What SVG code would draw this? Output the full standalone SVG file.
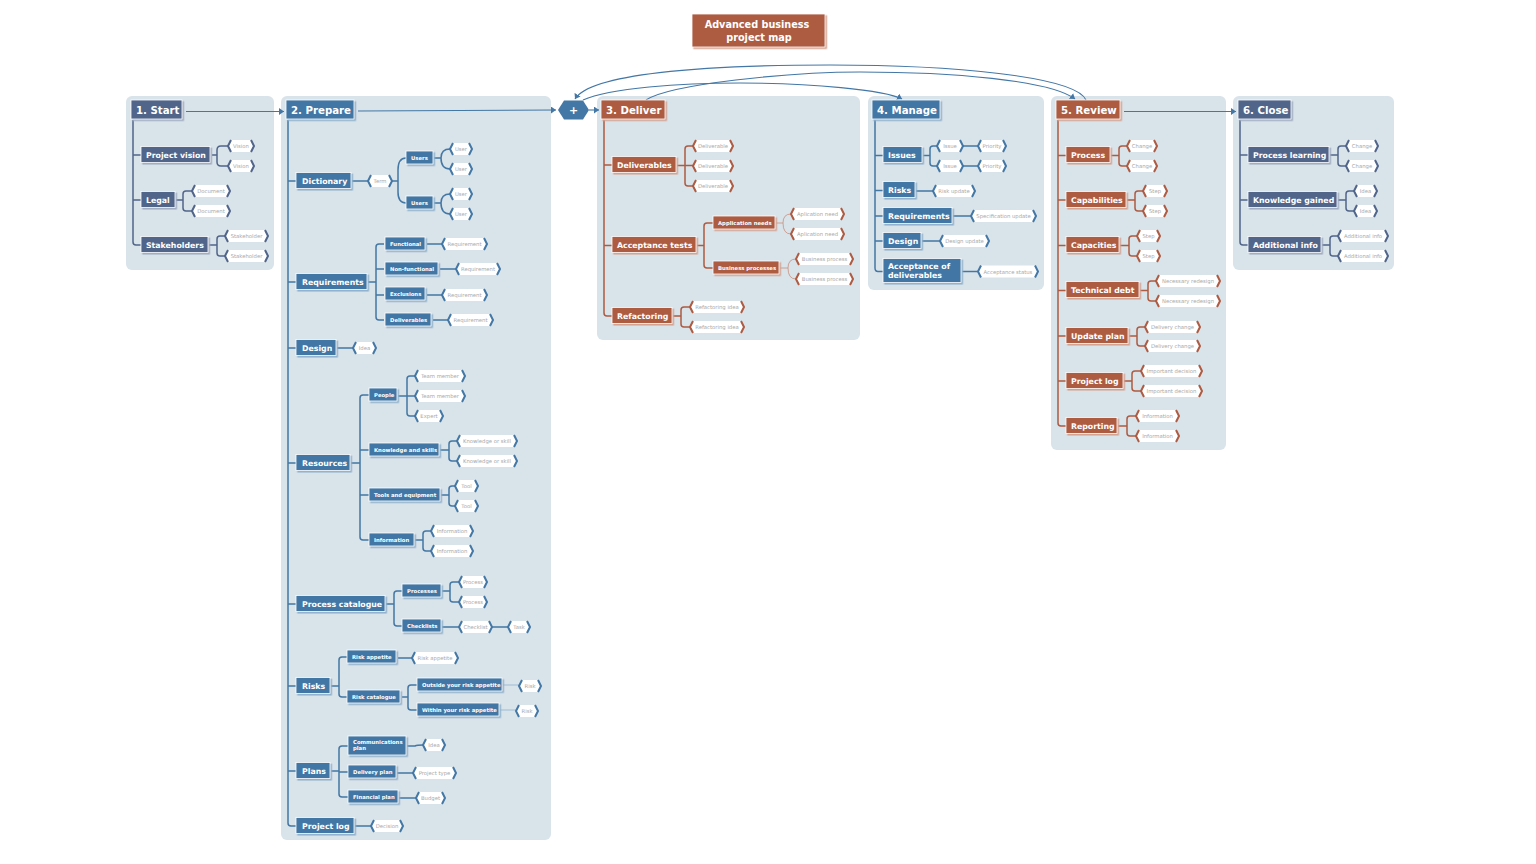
<svg xmlns="http://www.w3.org/2000/svg" width="1536" height="864" viewBox="0 0 1536 864">
<style>
text{font-family:"DejaVu Sans",Verdana,sans-serif}
.p{fill:#d9e3ea}
.b{stroke:#fff;stroke-width:.8}
.sl{fill:#51658a;filter:url(#fs)}
.bl{fill:#4377a5;filter:url(#fb)}
.rd{fill:#ad5b42;filter:url(#fr)}
.t1,.t2,.t3{fill:#fff;font-weight:700}
.t1{font-size:10.2px}.t2{font-size:7.8px}.t3{font-size:5.3px}
.lf{fill:#fff}
.ch{fill:#fff;stroke-width:2;stroke-linejoin:miter}
.cs{stroke:#51658a}.cb{stroke:#4377a5}.cr{stroke:#ad5b42}
.lt{fill:#a8a8a8;font-size:5.3px;text-anchor:middle}
.k{fill:none;stroke-width:1.5}
.th{fill:none;stroke:#c98f7c;stroke-width:.8}
.tb{fill:none;stroke:#9fbbd3;stroke-width:1.2}
.a{fill:none;stroke:#4377a5;stroke-width:1.1}
</style>
<defs>
<filter id="fs" x="-10%" y="-20%" width="120%" height="150%"><feDropShadow dx="1.6" dy="1.6" stdDeviation="0" flood-color="#9fabc0"/></filter>
<filter id="fb" x="-10%" y="-20%" width="120%" height="150%"><feDropShadow dx="1.6" dy="1.6" stdDeviation="0" flood-color="#8fb0cc"/></filter>
<filter id="fr" x="-10%" y="-20%" width="120%" height="150%"><feDropShadow dx="1.6" dy="1.6" stdDeviation="0" flood-color="#d3a291"/></filter>
<marker id="ar" markerUnits="userSpaceOnUse" markerWidth="7" markerHeight="8" refX="5" refY="3.5" orient="auto"><path d="M0 0L5 3.5L0 7Z" fill="#4377a5"/></marker>
</defs>
<g id="panels">
<rect class="p" x="126" y="96" width="148" height="174" rx="6"/>
<rect class="p" x="281" y="96" width="270" height="744" rx="6"/>
<rect class="p" x="597" y="96" width="263" height="244" rx="6"/>
<rect class="p" x="868" y="96" width="176" height="194" rx="6"/>
<rect class="p" x="1051" y="96" width="175" height="354" rx="6"/>
<rect class="p" x="1233" y="96" width="161" height="174" rx="6"/>
</g>
<g id="connectors">
<g class="a">
<path d="M186 111.500H284" marker-end="url(#ar)"/>
<path d="M358 111L556 110" marker-end="url(#ar)"/>
<path d="M589 110H599" marker-end="url(#ar)"/>
<path d="M1124 111.500H1236" marker-end="url(#ar)"/>
<path d="M583 100C610 88 680 83 740 83C810 83 885 90 902 99" marker-end="url(#ar)"/>
<path d="M646 100C670 84 790 72 860 72C950 72 1050 80 1075 99" marker-end="url(#ar)"/>
<path d="M1086 100C1075 76 950 65 830 65C700 65 590 74 575 99" marker-end="url(#ar)"/>
</g>
<g class="k cs">
<path d="M133 120V242Q133 245 136 245H141M133 155H141M133 200H141"/>
<path d="M212 155H217M228 146H221Q217 146 217 150V162Q217 166 221 166H228"/>
<path d="M176 200H183M192 191H186Q183 191 183 194V208Q183 211 186 211H192"/>
<path d="M209 245H217M225 236H220Q217 236 217 239V253Q217 256 220 256H225"/>
<path d="M1240 120V242Q1240 245 1243 245H1248M1240 155H1248M1240 200H1248"/>
<path d="M1330 155H1338M1346 146H1341Q1338 146 1338 149V163Q1338 166 1341 166H1346"/>
<path d="M1338 200H1346M1354 191H1349Q1346 191 1346 194V208Q1346 211 1349 211H1354"/>
<path d="M1322 245H1330M1338 236H1333Q1330 236 1330 239V253Q1330 256 1333 256H1338"/>
</g>
<g class="k cb">
<path d="M288 120V823Q288 826 291 826H296M288 181H296M288 282H296M288 348H296M288 463H296M288 604H296M288 686H296M288 771H296"/>
<path d="M352 181H368M392 181H398M406 158Q398 158 398 170V192Q398 203 406 203"/>
<path d="M434 158H441M450 149Q441 149 441 158Q441 169 450 169M434 203H441M450 194Q441 194 441 203Q441 214 450 214"/>
<path d="M368 282H376M384 244H379Q376 244 376 247V317Q376 320 379 320H384M376 269H384M376 295H384"/>
<path d="M427 244H442M440 269H456M427 295H442M433 320H448M337 348H353"/>
<path d="M351 463H360M369 395H363Q360 395 360 398V537Q360 540 363 540H369M360 450H369M360 495H369"/>
<path d="M398 396H407M415 376H410Q407 376 407 379V413Q407 416 410 416H415M407 396H415"/>
<path d="M440 450H449M457 441H452Q449 441 449 444V458Q449 461 452 461H457"/>
<path d="M441 495H449M455 486H452Q449 486 449 489V503Q449 506 452 506H455"/>
<path d="M415 540H423M431 531H426Q423 531 423 534V548Q423 551 426 551H431"/>
<path d="M386 604H394M402 591H397Q394 591 394 594V623Q394 626 397 626H402"/>
<path d="M442 591H450M459 582H453Q450 582 450 585V599Q450 602 453 602H459M442 627H459M492 627H508"/>
<path d="M331 686H339M347 657H342Q339 657 339 660V694Q339 697 342 697H347M398 658H412"/>
<path d="M402 697H408M417 685H411Q408 685 408 688V707Q408 710 411 710H417"/>
<path d="M331 771H339M348 746H342Q339 746 339 749V794Q339 797 342 797H348M339 772H348"/>
<path d="M407 746H415Q417 745 423 745M397 773H413M399 798H416M355 826H371"/>
<path d="M875 120V268Q875 271.500 878 271.500H883M875 155.500H883M875 190.500H883M875 216H883M875 241H883"/>
<path d="M923 155.500H930M937 146H933Q930 146 930 149V163Q930 166 933 166H937M963 146H978M963 166H978"/>
<path d="M916 191H933M953 216H971M922 241H940M962 271.500H978"/>
</g>
<path class="tb" d="M503 685H519M500 710H516"/>
<g class="k cr">
<path d="M604 120V313Q604 316 607 316H612M604 165H612M604 245.500H612"/>
<path d="M677 165.500H693M693 146H688Q685 146 685 149V183Q685 186 688 186H693"/>
<path d="M697 245.500H704M713 223H707Q704 223 704 226V265Q704 268 707 268H713"/>
<path d="M673 316H681M690 307H684Q681 307 681 310V324Q681 327 684 327H690"/>
<path d="M1058 120V423Q1058 426 1061 426H1066M1058 155.500H1066M1058 200H1066M1058 245.500H1066M1058 290.500H1066M1058 336H1066M1058 381H1066"/>
<path d="M1111 155.500H1119M1127 146H1122Q1119 146 1119 149V163Q1119 166 1122 166H1127"/>
<path d="M1127 200H1135M1143 191H1138Q1135 191 1135 194V208Q1135 211 1138 211H1143"/>
<path d="M1120 245.500H1129M1137 236H1132Q1129 236 1129 239V253Q1129 256 1132 256H1137"/>
<path d="M1140 290.500H1148M1156 281H1151Q1148 281 1148 284V298Q1148 301 1151 301H1156"/>
<path d="M1129 336H1137M1145 327H1140Q1137 327 1137 330V343Q1137 346 1140 346H1145"/>
<path d="M1124 381H1132M1141 371H1135Q1132 371 1132 374V388Q1132 391 1135 391H1141"/>
<path d="M1118 426H1127M1136 416H1130Q1127 416 1127 419V433Q1127 436 1130 436H1136"/>
</g>
<path class="th" d="M776 223H783M791 214Q783 214 783 223Q783 234 791 234M780 268H788M796 259Q788 259 788 268Q788 279 796 279"/>
</g>
<g id="title"><rect class="b rd" x="692" y="14" width="133" height="33"/><text class="t2" style="font-size:9.700px" text-anchor="middle" x="757" y="28">Advanced business</text><text class="t2" style="font-size:9.700px" text-anchor="middle" x="759" y="40.500">project map</text></g>
<g id="hex-plus"><path d="M558 110L564 100.500H583L589 110L583 119.500H564Z" fill="#4377a5"/><text x="573.500" y="114" fill="#fff" font-size="11" font-weight="700" text-anchor="middle">+</text></g>

<g id="n1"><rect class="b sl" x="131" y="100" width="51" height="19"/><text class="t1" x="136" y="113.500">1. Start</text></g>
<g id="n1a"><rect class="b sl" x="141" y="146.500" width="69" height="16"/><text class="t2" x="146" y="157.500">Project vision</text></g>
<g id="n1b"><rect class="b sl" x="141" y="191.500" width="34" height="16"/><text class="t2" x="146" y="202.500">Legal</text></g>
<g id="n1c"><rect class="b sl" x="141" y="236.500" width="67" height="16"/><text class="t2" x="146" y="247.500">Stakeholders</text></g>
<g id="l1"><rect class="lf" x="231" y="140" width="20" height="12"/><path class="ch cs" d="M231 140l-3 6 3 6M251 140l3 6-3 6"/><text class="lt" x="241" y="148">Vision</text></g>
<g id="l2"><rect class="lf" x="231" y="160" width="20" height="12"/><path class="ch cs" d="M231 160l-3 6 3 6M251 160l3 6-3 6"/><text class="lt" x="241" y="168">Vision</text></g>
<g id="l3"><rect class="lf" x="195" y="185" width="32" height="12"/><path class="ch cs" d="M195 185l-3 6 3 6M227 185l3 6-3 6"/><text class="lt" x="211" y="193">Document</text></g>
<g id="l4"><rect class="lf" x="195" y="205" width="32" height="12"/><path class="ch cs" d="M195 205l-3 6 3 6M227 205l3 6-3 6"/><text class="lt" x="211" y="213">Document</text></g>
<g id="l5"><rect class="lf" x="228" y="230" width="37" height="12"/><path class="ch cs" d="M228 230l-3 6 3 6M265 230l3 6-3 6"/><text class="lt" x="246.500" y="238">Stakeholder</text></g>
<g id="l6"><rect class="lf" x="228" y="250" width="37" height="12"/><path class="ch cs" d="M228 250l-3 6 3 6M265 250l3 6-3 6"/><text class="lt" x="246.500" y="258">Stakeholder</text></g>

<g id="n2"><rect class="b bl" x="286" y="100" width="68" height="19"/><text class="t1" x="291" y="113.500">2. Prepare</text></g>
<g id="n2a"><rect class="b bl" x="296" y="172.500" width="55" height="16"/><text class="t2" x="302" y="183.500">Dictionary</text></g>
<g id="n2b"><rect class="b bl" x="296" y="273.500" width="71" height="16"/><text class="t2" x="302" y="284.500">Requirements</text></g>
<g id="n2c"><rect class="b bl" x="296" y="339.500" width="40" height="16"/><text class="t2" x="302" y="350.500">Design</text></g>
<g id="n2d"><rect class="b bl" x="296" y="454.500" width="54" height="16"/><text class="t2" x="302" y="465.500">Resources</text></g>
<g id="n2e"><rect class="b bl" x="296" y="595.500" width="89" height="16"/><text class="t2" x="302" y="606.500">Process catalogue</text></g>
<g id="n2f"><rect class="b bl" x="296" y="677.500" width="34" height="16"/><text class="t2" x="302" y="688.500">Risks</text></g>
<g id="n2g"><rect class="b bl" x="296" y="762.500" width="34" height="16"/><text class="t2" x="302" y="773.500">Plans</text></g>
<g id="n2h"><rect class="b bl" x="296" y="817.500" width="58" height="16"/><text class="t2" x="302" y="828.500">Project log</text></g>
<g id="n2a1"><rect class="b bl" x="406" y="151" width="27" height="13"/><text class="t3" x="411" y="159.500">Users</text></g>
<g id="n2a2"><rect class="b bl" x="406" y="196" width="27" height="13"/><text class="t3" x="411" y="204.500">Users</text></g>
<g id="n2b1"><rect class="b bl" x="385" y="237" width="40" height="13"/><text class="t3" x="390" y="245.500">Functional</text></g>
<g id="n2b2"><rect class="b bl" x="385" y="262" width="53" height="13"/><text class="t3" x="390" y="270.500">Non-functional</text></g>
<g id="n2b3"><rect class="b bl" x="385" y="287" width="40" height="13"/><text class="t3" x="390" y="295.500">Exclusions</text></g>
<g id="n2b4"><rect class="b bl" x="385" y="313" width="46" height="13"/><text class="t3" x="390" y="321.500">Deliverables</text></g>
<g id="n2d1"><rect class="b bl" x="369" y="388" width="28" height="13"/><text class="t3" x="374" y="396.500">People</text></g>
<g id="n2d2"><rect class="b bl" x="369" y="443" width="70" height="13"/><text class="t3" x="374" y="451.500">Knowledge and skills</text></g>
<g id="n2d3"><rect class="b bl" x="369" y="488" width="71" height="13"/><text class="t3" x="374" y="496.500">Tools and equipment</text></g>
<g id="n2d4"><rect class="b bl" x="369" y="533" width="45" height="13"/><text class="t3" x="374" y="541.500">Information</text></g>
<g id="n2e1"><rect class="b bl" x="402" y="584" width="39" height="13"/><text class="t3" x="407" y="592.500">Processes</text></g>
<g id="n2e2"><rect class="b bl" x="402" y="619" width="39" height="13"/><text class="t3" x="407" y="627.500">Checklists</text></g>
<g id="n2f1"><rect class="b bl" x="347" y="650" width="49" height="13"/><text class="t3" x="352" y="658.500">Risk appetite</text></g>
<g id="n2f2"><rect class="b bl" x="347" y="690" width="53" height="13"/><text class="t3" x="352" y="698.500">Risk catalogue</text></g>
<g id="n2f3"><rect class="b bl" x="417" y="678" width="85" height="13"/><text class="t3" x="422" y="686.500">Outside your risk appetite</text></g>
<g id="n2f4"><rect class="b bl" x="417" y="703" width="82" height="13"/><text class="t3" x="422" y="711.500">Within your risk appetite</text></g>
<g id="n2g1"><rect class="b bl" x="348" y="736" width="58" height="19"/><text class="t3" x="353" y="744">Communications</text><text class="t3" x="353" y="750">plan</text></g>
<g id="n2g2"><rect class="b bl" x="348" y="765" width="48" height="13"/><text class="t3" x="353" y="773.500">Delivery plan</text></g>
<g id="n2g3"><rect class="b bl" x="348" y="790" width="50" height="13"/><text class="t3" x="353" y="798.500">Financial plan</text></g>
<g id="l7"><rect class="lf" x="371" y="175" width="18" height="12"/><path class="ch cb" d="M371 175l-3 6 3 6M389 175l3 6-3 6"/><text class="lt" x="380" y="183">Term</text></g>
<g id="l8"><rect class="lf" x="453" y="143" width="16" height="12"/><path class="ch cb" d="M453 143l-3 6 3 6M469 143l3 6-3 6"/><text class="lt" x="461" y="151">User</text></g>
<g id="l9"><rect class="lf" x="453" y="163" width="16" height="12"/><path class="ch cb" d="M453 163l-3 6 3 6M469 163l3 6-3 6"/><text class="lt" x="461" y="171">User</text></g>
<g id="l10"><rect class="lf" x="453" y="188" width="16" height="12"/><path class="ch cb" d="M453 188l-3 6 3 6M469 188l3 6-3 6"/><text class="lt" x="461" y="196">User</text></g>
<g id="l11"><rect class="lf" x="453" y="208" width="16" height="12"/><path class="ch cb" d="M453 208l-3 6 3 6M469 208l3 6-3 6"/><text class="lt" x="461" y="216">User</text></g>
<g id="l12"><rect class="lf" x="445" y="238" width="39" height="12"/><path class="ch cb" d="M445 238l-3 6 3 6M484 238l3 6-3 6"/><text class="lt" x="464.500" y="246">Requirement</text></g>
<g id="l13"><rect class="lf" x="459" y="263" width="38" height="12"/><path class="ch cb" d="M459 263l-3 6 3 6M497 263l3 6-3 6"/><text class="lt" x="478" y="271">Requirement</text></g>
<g id="l14"><rect class="lf" x="445" y="289" width="39" height="12"/><path class="ch cb" d="M445 289l-3 6 3 6M484 289l3 6-3 6"/><text class="lt" x="464.500" y="297">Requirement</text></g>
<g id="l15"><rect class="lf" x="451" y="314" width="39" height="12"/><path class="ch cb" d="M451 314l-3 6 3 6M490 314l3 6-3 6"/><text class="lt" x="470.500" y="322">Requirement</text></g>
<g id="l16"><rect class="lf" x="356" y="342" width="17" height="12"/><path class="ch cb" d="M356 342l-3 6 3 6M373 342l3 6-3 6"/><text class="lt" x="364.500" y="350">Idea</text></g>
<g id="l17"><rect class="lf" x="418" y="370" width="44" height="12"/><path class="ch cb" d="M418 370l-3 6 3 6M462 370l3 6-3 6"/><text class="lt" x="440" y="378">Team member</text></g>
<g id="l18"><rect class="lf" x="418" y="390" width="44" height="12"/><path class="ch cb" d="M418 390l-3 6 3 6M462 390l3 6-3 6"/><text class="lt" x="440" y="398">Team member</text></g>
<g id="l19"><rect class="lf" x="418" y="410" width="22" height="12"/><path class="ch cb" d="M418 410l-3 6 3 6M440 410l3 6-3 6"/><text class="lt" x="429" y="418">Expert</text></g>
<g id="l20"><rect class="lf" x="460" y="435" width="54" height="12"/><path class="ch cb" d="M460 435l-3 6 3 6M514 435l3 6-3 6"/><text class="lt" x="487" y="443">Knowledge or skill</text></g>
<g id="l21"><rect class="lf" x="460" y="455" width="54" height="12"/><path class="ch cb" d="M460 455l-3 6 3 6M514 455l3 6-3 6"/><text class="lt" x="487" y="463">Knowledge or skill</text></g>
<g id="l22"><rect class="lf" x="458" y="480" width="17" height="12"/><path class="ch cb" d="M458 480l-3 6 3 6M475 480l3 6-3 6"/><text class="lt" x="466.500" y="488">Tool</text></g>
<g id="l23"><rect class="lf" x="458" y="500" width="17" height="12"/><path class="ch cb" d="M458 500l-3 6 3 6M475 500l3 6-3 6"/><text class="lt" x="466.500" y="508">Tool</text></g>
<g id="l24"><rect class="lf" x="434" y="525" width="36" height="12"/><path class="ch cb" d="M434 525l-3 6 3 6M470 525l3 6-3 6"/><text class="lt" x="452" y="533">Information</text></g>
<g id="l25"><rect class="lf" x="434" y="545" width="36" height="12"/><path class="ch cb" d="M434 545l-3 6 3 6M470 545l3 6-3 6"/><text class="lt" x="452" y="553">Information</text></g>
<g id="l26"><rect class="lf" x="462" y="576" width="22" height="12"/><path class="ch cb" d="M462 576l-3 6 3 6M484 576l3 6-3 6"/><text class="lt" x="473" y="584">Process</text></g>
<g id="l27"><rect class="lf" x="462" y="596" width="22" height="12"/><path class="ch cb" d="M462 596l-3 6 3 6M484 596l3 6-3 6"/><text class="lt" x="473" y="604">Process</text></g>
<g id="l28"><rect class="lf" x="462" y="621" width="27" height="12"/><path class="ch cb" d="M462 621l-3 6 3 6M489 621l3 6-3 6"/><text class="lt" x="475.500" y="629">Checklist</text></g>
<g id="l29"><rect class="lf" x="511" y="621" width="16" height="12"/><path class="ch cb" d="M511 621l-3 6 3 6M527 621l3 6-3 6"/><text class="lt" x="519" y="629">Task</text></g>
<g id="l30"><rect class="lf" x="415" y="652" width="40" height="12"/><path class="ch cb" d="M415 652l-3 6 3 6M455 652l3 6-3 6"/><text class="lt" x="435" y="660">Risk appetite</text></g>
<g id="l31"><rect class="lf" x="522" y="680" width="16" height="12"/><path class="ch cb" d="M522 680l-3 6 3 6M538 680l3 6-3 6"/><text class="lt" x="530" y="688">Risk</text></g>
<g id="l32"><rect class="lf" x="519" y="705" width="16" height="12"/><path class="ch cb" d="M519 705l-3 6 3 6M535 705l3 6-3 6"/><text class="lt" x="527" y="713">Risk</text></g>
<g id="l33"><rect class="lf" x="426" y="739" width="16" height="12"/><path class="ch cb" d="M426 739l-3 6 3 6M442 739l3 6-3 6"/><text class="lt" x="434" y="747">Idea</text></g>
<g id="l34"><rect class="lf" x="416" y="767" width="37" height="12"/><path class="ch cb" d="M416 767l-3 6 3 6M453 767l3 6-3 6"/><text class="lt" x="434.500" y="775">Project type</text></g>
<g id="l35"><rect class="lf" x="419" y="792" width="23" height="12"/><path class="ch cb" d="M419 792l-3 6 3 6M442 792l3 6-3 6"/><text class="lt" x="430.500" y="800">Budget</text></g>
<g id="l36"><rect class="lf" x="374" y="820" width="26" height="12"/><path class="ch cb" d="M374 820l-3 6 3 6M400 820l3 6-3 6"/><text class="lt" x="387" y="828">Decision</text></g>

<g id="n3"><rect class="b rd" x="601" y="100" width="64" height="19"/><text class="t1" x="606" y="113.500">3. Deliver</text></g>
<g id="n3a"><rect class="b rd" x="612" y="156.500" width="64" height="16"/><text class="t2" x="617" y="167.500">Deliverables</text></g>
<g id="n3b"><rect class="b rd" x="612" y="236.500" width="84" height="16"/><text class="t2" x="617" y="247.500">Acceptance tests</text></g>
<g id="n3c"><rect class="b rd" x="612" y="307.500" width="60" height="16"/><text class="t2" x="617" y="318.500">Refactoring</text></g>
<g id="n3b1"><rect class="b rd" x="713" y="216" width="62" height="13"/><text class="t3" x="718" y="224.500">Application needs</text></g>
<g id="n3b2"><rect class="b rd" x="713" y="261" width="66" height="13"/><text class="t3" x="718" y="269.500">Business processes</text></g>
<g id="l37"><rect class="lf" x="696" y="140" width="34" height="12"/><path class="ch cr" d="M696 140l-3 6 3 6M730 140l3 6-3 6"/><text class="lt" x="713" y="148">Deliverable</text></g>
<g id="l38"><rect class="lf" x="696" y="160" width="34" height="12"/><path class="ch cr" d="M696 160l-3 6 3 6M730 160l3 6-3 6"/><text class="lt" x="713" y="168">Deliverable</text></g>
<g id="l39"><rect class="lf" x="696" y="180" width="34" height="12"/><path class="ch cr" d="M696 180l-3 6 3 6M730 180l3 6-3 6"/><text class="lt" x="713" y="188">Deliverable</text></g>
<g id="l40"><rect class="lf" x="794" y="208" width="47" height="12"/><path class="ch cr" d="M794 208l-3 6 3 6M841 208l3 6-3 6"/><text class="lt" x="817.500" y="216">Aplication need</text></g>
<g id="l41"><rect class="lf" x="794" y="228" width="47" height="12"/><path class="ch cr" d="M794 228l-3 6 3 6M841 228l3 6-3 6"/><text class="lt" x="817.500" y="236">Aplication need</text></g>
<g id="l42"><rect class="lf" x="799" y="253" width="51" height="12"/><path class="ch cr" d="M799 253l-3 6 3 6M850 253l3 6-3 6"/><text class="lt" x="824.500" y="261">Business process</text></g>
<g id="l43"><rect class="lf" x="799" y="273" width="51" height="12"/><path class="ch cr" d="M799 273l-3 6 3 6M850 273l3 6-3 6"/><text class="lt" x="824.500" y="281">Business process</text></g>
<g id="l44"><rect class="lf" x="693" y="301" width="48" height="12"/><path class="ch cr" d="M693 301l-3 6 3 6M741 301l3 6-3 6"/><text class="lt" x="717" y="309">Refactoring idea</text></g>
<g id="l45"><rect class="lf" x="693" y="321" width="48" height="12"/><path class="ch cr" d="M693 321l-3 6 3 6M741 321l3 6-3 6"/><text class="lt" x="717" y="329">Refactoring idea</text></g>

<g id="n4"><rect class="b bl" x="872" y="100" width="68" height="19"/><text class="t1" x="877" y="113.500">4. Manage</text></g>
<g id="n4a"><rect class="b bl" x="883" y="146.500" width="39" height="16"/><text class="t2" x="888" y="157.500">Issues</text></g>
<g id="n4b"><rect class="b bl" x="883" y="181.500" width="32" height="16"/><text class="t2" x="888" y="192.500">Risks</text></g>
<g id="n4c"><rect class="b bl" x="883" y="207.500" width="69" height="16"/><text class="t2" x="888" y="218.500">Requirements</text></g>
<g id="n4d"><rect class="b bl" x="883" y="232.500" width="38" height="16"/><text class="t2" x="888" y="243.500">Design</text></g>
<g id="n4e"><rect class="b bl" x="883" y="258.500" width="78" height="24"/><text class="t2" x="888" y="268.500">Acceptance of</text><text class="t2" x="888" y="278">deliverables</text></g>
<g id="l46"><rect class="lf" x="940" y="140" width="20" height="12"/><path class="ch cb" d="M940 140l-3 6 3 6M960 140l3 6-3 6"/><text class="lt" x="950" y="148">Issue</text></g>
<g id="l47"><rect class="lf" x="940" y="160" width="20" height="12"/><path class="ch cb" d="M940 160l-3 6 3 6M960 160l3 6-3 6"/><text class="lt" x="950" y="168">Issue</text></g>
<g id="l48"><rect class="lf" x="981" y="140" width="22" height="12"/><path class="ch cb" d="M981 140l-3 6 3 6M1003 140l3 6-3 6"/><text class="lt" x="992" y="148">Priority</text></g>
<g id="l49"><rect class="lf" x="981" y="160" width="22" height="12"/><path class="ch cb" d="M981 160l-3 6 3 6M1003 160l3 6-3 6"/><text class="lt" x="992" y="168">Priority</text></g>
<g id="l50"><rect class="lf" x="936" y="185" width="36" height="12"/><path class="ch cb" d="M936 185l-3 6 3 6M972 185l3 6-3 6"/><text class="lt" x="954" y="193">Risk update</text></g>
<g id="l51"><rect class="lf" x="974" y="210" width="59" height="12"/><path class="ch cb" d="M974 210l-3 6 3 6M1033 210l3 6-3 6"/><text class="lt" x="1003.500" y="218">Specification update</text></g>
<g id="l52"><rect class="lf" x="943" y="235" width="43" height="12"/><path class="ch cb" d="M943 235l-3 6 3 6M986 235l3 6-3 6"/><text class="lt" x="964.500" y="243">Design update</text></g>
<g id="l53"><rect class="lf" x="981" y="265.500" width="54" height="12"/><path class="ch cb" d="M981 265.500l-3 6 3 6M1035 265.500l3 6-3 6"/><text class="lt" x="1008" y="273.500">Acceptance status</text></g>

<g id="n5"><rect class="b rd" x="1056" y="100" width="64" height="19"/><text class="t1" x="1061" y="113.500">5. Review</text></g>
<g id="n5a"><rect class="b rd" x="1066" y="146.500" width="44" height="16"/><text class="t2" x="1071" y="157.500">Process</text></g>
<g id="n5b"><rect class="b rd" x="1066" y="191.500" width="60" height="16"/><text class="t2" x="1071" y="202.500">Capabilities</text></g>
<g id="n5c"><rect class="b rd" x="1066" y="236.500" width="53" height="16"/><text class="t2" x="1071" y="247.500">Capacities</text></g>
<g id="n5d"><rect class="b rd" x="1066" y="281.500" width="73" height="16"/><text class="t2" x="1071" y="292.500">Technical debt</text></g>
<g id="n5e"><rect class="b rd" x="1066" y="327.500" width="62" height="16"/><text class="t2" x="1071" y="338.500">Update plan</text></g>
<g id="n5f"><rect class="b rd" x="1066" y="372.500" width="57" height="16"/><text class="t2" x="1071" y="383.500">Project log</text></g>
<g id="n5g"><rect class="b rd" x="1066" y="417.500" width="51" height="16"/><text class="t2" x="1071" y="428.500">Reporting</text></g>
<g id="l54"><rect class="lf" x="1130" y="140" width="24" height="12"/><path class="ch cr" d="M1130 140l-3 6 3 6M1154 140l3 6-3 6"/><text class="lt" x="1142" y="148">Change</text></g>
<g id="l55"><rect class="lf" x="1130" y="160" width="24" height="12"/><path class="ch cr" d="M1130 160l-3 6 3 6M1154 160l3 6-3 6"/><text class="lt" x="1142" y="168">Change</text></g>
<g id="l56"><rect class="lf" x="1146" y="185" width="18" height="12"/><path class="ch cr" d="M1146 185l-3 6 3 6M1164 185l3 6-3 6"/><text class="lt" x="1155" y="193">Step</text></g>
<g id="l57"><rect class="lf" x="1146" y="205" width="18" height="12"/><path class="ch cr" d="M1146 205l-3 6 3 6M1164 205l3 6-3 6"/><text class="lt" x="1155" y="213">Step</text></g>
<g id="l58"><rect class="lf" x="1140" y="230" width="17" height="12"/><path class="ch cr" d="M1140 230l-3 6 3 6M1157 230l3 6-3 6"/><text class="lt" x="1148.500" y="238">Step</text></g>
<g id="l59"><rect class="lf" x="1140" y="250" width="17" height="12"/><path class="ch cr" d="M1140 250l-3 6 3 6M1157 250l3 6-3 6"/><text class="lt" x="1148.500" y="258">Step</text></g>
<g id="l60"><rect class="lf" x="1159" y="275" width="58" height="12"/><path class="ch cr" d="M1159 275l-3 6 3 6M1217 275l3 6-3 6"/><text class="lt" x="1188" y="283">Necessary redesign</text></g>
<g id="l61"><rect class="lf" x="1159" y="295" width="58" height="12"/><path class="ch cr" d="M1159 295l-3 6 3 6M1217 295l3 6-3 6"/><text class="lt" x="1188" y="303">Necessary redesign</text></g>
<g id="l62"><rect class="lf" x="1148" y="321" width="49" height="12"/><path class="ch cr" d="M1148 321l-3 6 3 6M1197 321l3 6-3 6"/><text class="lt" x="1172.500" y="329">Delivery change</text></g>
<g id="l63"><rect class="lf" x="1148" y="340" width="49" height="12"/><path class="ch cr" d="M1148 340l-3 6 3 6M1197 340l3 6-3 6"/><text class="lt" x="1172.500" y="348">Delivery change</text></g>
<g id="l64"><rect class="lf" x="1144" y="365" width="55" height="12"/><path class="ch cr" d="M1144 365l-3 6 3 6M1199 365l3 6-3 6"/><text class="lt" x="1171.500" y="373">Important decision</text></g>
<g id="l65"><rect class="lf" x="1144" y="385" width="55" height="12"/><path class="ch cr" d="M1144 385l-3 6 3 6M1199 385l3 6-3 6"/><text class="lt" x="1171.500" y="393">Important decision</text></g>
<g id="l66"><rect class="lf" x="1139" y="410" width="37" height="12"/><path class="ch cr" d="M1139 410l-3 6 3 6M1176 410l3 6-3 6"/><text class="lt" x="1157.500" y="418">Information</text></g>
<g id="l67"><rect class="lf" x="1139" y="430" width="37" height="12"/><path class="ch cr" d="M1139 430l-3 6 3 6M1176 430l3 6-3 6"/><text class="lt" x="1157.500" y="438">Information</text></g>

<g id="n6"><rect class="b sl" x="1238" y="100" width="53" height="19"/><text class="t1" x="1243" y="113.500">6. Close</text></g>
<g id="n6a"><rect class="b sl" x="1248" y="146.500" width="81" height="16"/><text class="t2" x="1253" y="157.500">Process learning</text></g>
<g id="n6b"><rect class="b sl" x="1248" y="191.500" width="89" height="16"/><text class="t2" x="1253" y="202.500">Knowledge gained</text></g>
<g id="n6c"><rect class="b sl" x="1248" y="236.500" width="73" height="16"/><text class="t2" x="1253" y="247.500">Additional info</text></g>
<g id="l68"><rect class="lf" x="1349" y="140" width="26" height="12"/><path class="ch cs" d="M1349 140l-3 6 3 6M1375 140l3 6-3 6"/><text class="lt" x="1362" y="148">Change</text></g>
<g id="l69"><rect class="lf" x="1349" y="160" width="26" height="12"/><path class="ch cs" d="M1349 160l-3 6 3 6M1375 160l3 6-3 6"/><text class="lt" x="1362" y="168">Change</text></g>
<g id="l70"><rect class="lf" x="1357" y="185" width="17" height="12"/><path class="ch cs" d="M1357 185l-3 6 3 6M1374 185l3 6-3 6"/><text class="lt" x="1365.500" y="193">Idea</text></g>
<g id="l71"><rect class="lf" x="1357" y="205" width="17" height="12"/><path class="ch cs" d="M1357 205l-3 6 3 6M1374 205l3 6-3 6"/><text class="lt" x="1365.500" y="213">Idea</text></g>
<g id="l72"><rect class="lf" x="1341" y="230" width="44" height="12"/><path class="ch cs" d="M1341 230l-3 6 3 6M1385 230l3 6-3 6"/><text class="lt" x="1363" y="238">Additional info</text></g>
<g id="l73"><rect class="lf" x="1341" y="250" width="44" height="12"/><path class="ch cs" d="M1341 250l-3 6 3 6M1385 250l3 6-3 6"/><text class="lt" x="1363" y="258">Additional info</text></g>
</svg>
